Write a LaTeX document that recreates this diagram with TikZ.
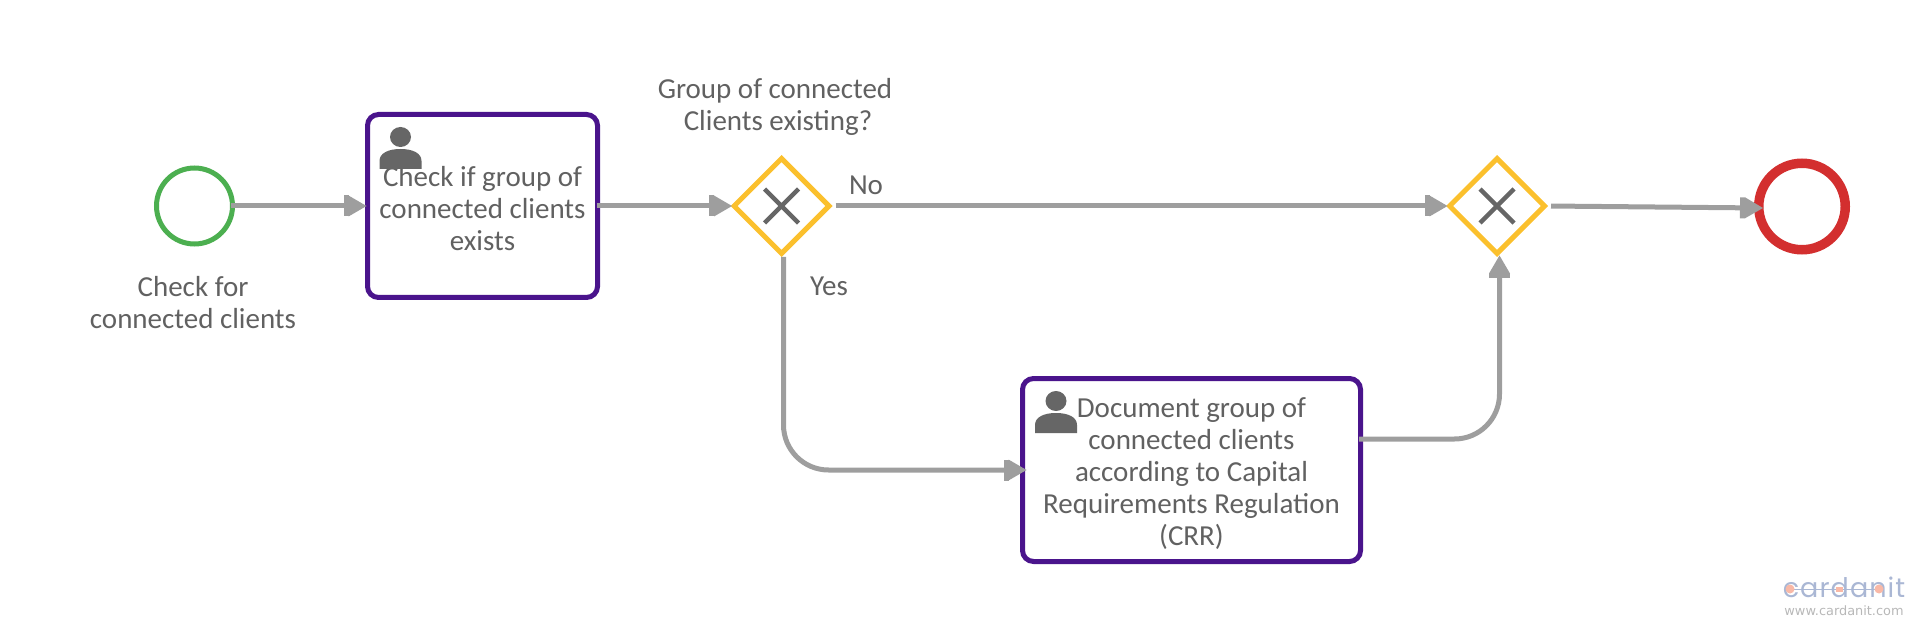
\documentclass[tikz,border=0pt]{standalone}
\usepackage{fontspec}
\setmainfont{Carlito}
\newfontfamily\logofont[LetterSpace=4]{Poppins}
\newfontfamily\urlfont{DejaVu Sans}
\usetikzlibrary{arrows.meta, shapes.geometric}

\definecolor{evgreen}{HTML}{4CAF50}
\definecolor{evred}{HTML}{D32F2F}
\definecolor{taskpurple}{HTML}{4A148C}
\definecolor{gateyellow}{HTML}{FBC02D}
\definecolor{flowgray}{HTML}{9E9E9E}
\definecolor{inkgray}{HTML}{616161}
\definecolor{icongray}{HTML}{666666}
\definecolor{logoblue}{HTML}{AAB7D4}
\definecolor{logodot}{HTML}{F9B9A7}

\begin{document}
\begin{tikzpicture}[
            x = 1pt, y = -1pt,
            every node/.style = {text = inkgray, font = \fontsize{29}{32}\selectfont, align = center, inner sep = 0pt},
            startev/.style = {circle, draw = evgreen, line width = 5pt, fill = white, minimum size = 76pt},
            endev/.style = {circle, draw = evred, line width = 9.5pt, fill = white, minimum size = 86.5pt},
            taskbox/.style = {rectangle, rounded corners = 11pt, draw = taskpurple, line width = 5pt, fill = white},
            gatex/.style = {diamond, aspect = 1, draw = gateyellow, line width = 5pt, fill = white, minimum size = 97pt,
                path picture = {\draw[icongray, line width = 4.5pt]
                    ([shift = {(-17pt, -17pt)}]path picture bounding box.center) -- ([shift = {(17pt, 17pt)}]path picture bounding box.center)
                    ([shift = {(-17pt, 17pt)}]path picture bounding box.center) -- ([shift = {(17pt, -17pt)}]path picture bounding box.center);}},
            flow/.style = {draw = flowgray, line width = 5pt, shorten > = -1.5pt,
                -{Rectangle[length = 5pt, width = 21pt, sep = 0pt, line width = 0pt]Triangle[length = 18pt, width = 21pt, line width = 0pt]}},
            usermark/.pic = {
                \fill[icongray] (0, -32) ellipse (10.5 and 10);
                \fill[icongray] (-21, 0) -- (-21, -8) .. controls (-21, -16) and (-12, -20) .. (0, -20)
                    .. controls (12, -20) and (21, -16) .. (21, -8) -- (21, 0) -- cycle;
            }]
    \useasboundingbox (0, 0) rectangle (1920, 636);

    % events and tasks
    \node[startev] (start) at (194.5, 206) {};
    \node (startlabel) at (193, 303) {Check for\\connected clients};
    \node[taskbox, minimum width = 230pt, minimum height = 183pt] (check) at (482.5, 206)
        {\rule{0pt}{25pt}Check if group of\\connected clients\\exists};
    \pic at (400.5, 169) {usermark};
    \node[gatex] (gwsplit) at (781.5, 206) {};
    \node (gwlabel) at (775, 107) {Group of connected\\\hspace*{6pt}Clients existing?};
    \node[gatex] (gwjoin) at (1497, 206) {};
    \node[taskbox, minimum width = 338pt, minimum height = 183pt] (doc) at (1191.5, 470)
        {\rule{0pt}{28pt}Document group of\\connected clients\\according to Capital\\Requirements Regulation\\(CRR)};
    \pic at (1056, 433) {usermark};
    \node[endev] (end) at (1802, 206.5) {};

    % flows
    \draw[flow, shorten < = -4pt] (start.east) -- (check.west);
    \draw[flow, shorten < = -3pt] (check.east) -- (gwsplit.west);
    \draw[flow, shorten < = 3pt] (gwsplit.east) -- (gwjoin.west);
    \draw[flow, shorten > = -6.5pt, rounded corners = 45pt] ([xshift = 2pt]gwsplit.south) |- (doc.west);
    \draw[flow, shorten < = -4pt, rounded corners = 45pt] ([yshift = 31pt]doc.east) -| ([xshift = 2.5pt]gwjoin.south);
    \draw[flow, shorten < = 3pt] (gwjoin.east) -- ([xshift = 7.5pt, yshift = -1.5pt]end.west);

    \node (nolabel) at (866, 185) {No};
    \node (yeslabel) at (829, 286) {Yes};

    % watermark
    \node[anchor = base, text = logoblue, font = \logofont\fontsize{27}{30}\selectfont] (logo) at (1844, 597) {cardanit};
    \draw[logoblue, line width = 1pt] (1790, 589) -- (1879, 589);
    \fill[logodot] (1790, 589) circle (4.5) (1879, 589) circle (4.5);
    \fill[logodot] (1835.5, 587) rectangle (1842.5, 592);
    \node[anchor = base, text = black!28, font = \urlfont\fontsize{12.9}{14}\selectfont] (url) at (1844, 615) {www.cardanit.com};
\end{tikzpicture}
\end{document}
